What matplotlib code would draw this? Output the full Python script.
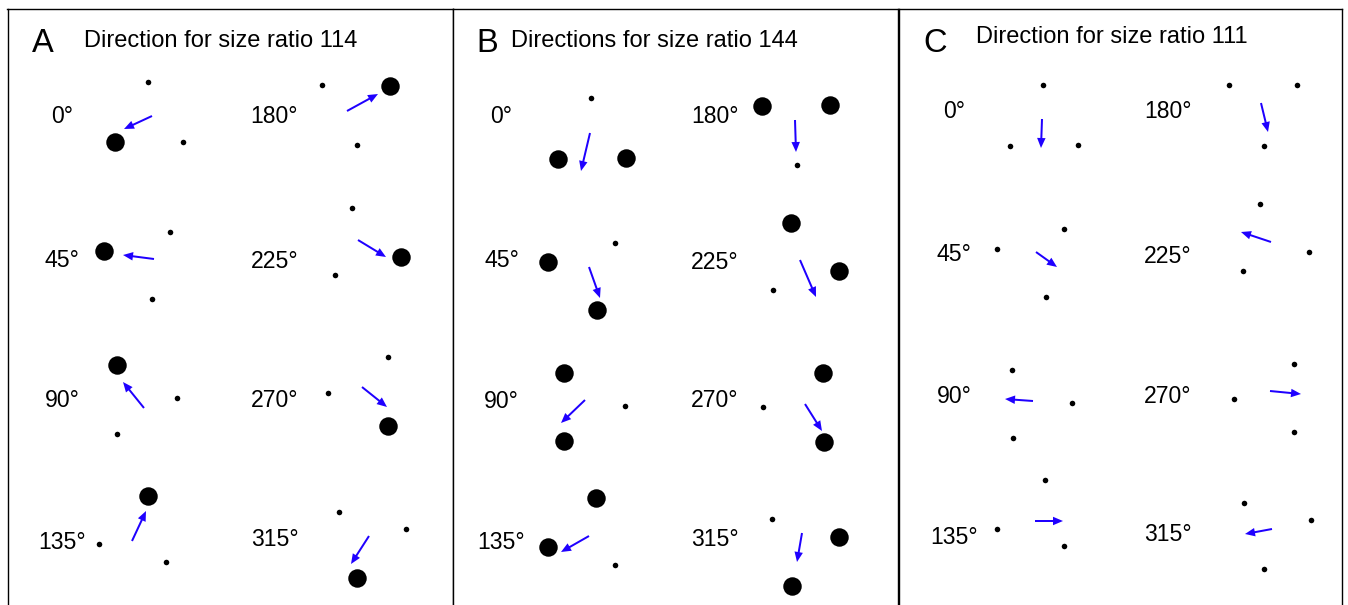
#!/usr/bin/env python
import matplotlib
matplotlib.use("Agg")
import matplotlib.pyplot as plt

plt.rcParams['font.family'] = ['Liberation Sans', 'DejaVu Sans']

W, H = 1348, 605
ARROW_BLUE = '#1f00ff'

# --- data (image pixel coordinates, y grows downward) ---
angle_labels = ["0°", "180°", "45°", "225°", "90°", "270°", "135°", "315°"]

panel_letters = ["A", "B", "C"]
panel_titles = ["Direction for size ratio 114",
                "Directions for size ratio 144",
                "Direction for size ratio 111"]

# panel A
a_small_x = [148, 183, 322, 357, 170, 152, 352, 335, 177, 117, 388, 328, 99, 166, 339, 406]
a_small_y = [82, 142, 85, 145, 232, 299, 208, 275, 398, 434, 357, 393, 544, 562, 512, 529]
a_big_x = [115, 390, 104, 401, 117, 388, 148, 357]
a_big_y = [142, 86, 251, 257, 365, 426, 496, 578]
a_arrows = [(152, 116, 124, 129), (347, 111, 378, 94), (154, 259, 123, 255),
            (358, 240, 386, 257), (144, 408, 123, 382), (362, 387, 387, 407),
            (132, 541, 146, 511), (369, 536, 351, 564)]

# panel B
b_small_x = [591, 797, 615, 773, 625, 763, 615, 772]
b_small_y = [98, 165, 243, 290, 406, 407, 565, 519]
b_big_x = [558, 626, 762, 830, 548, 597, 791, 839, 564, 564, 823, 824, 596, 548, 839, 792]
b_big_y = [159, 158, 106, 105, 262, 310, 223, 271, 373, 441, 373, 442, 498, 547, 537, 586]
b_arrows = [(590, 133, 581, 171), (795, 120, 796, 152), (589, 267, 600, 298),
            (800, 260, 816, 297), (585, 400, 561, 423), (805, 404, 822, 431),
            (589, 536, 561, 552), (802, 533, 797, 562)]

# panel C
c_small_x = [1043, 1010, 1078, 1229, 1297, 1264, 997, 1064, 1046, 1260, 1309, 1243,
             1012, 1072, 1013, 1294, 1234, 1294, 1045, 997, 1064, 1244, 1311, 1264]
c_small_y = [85, 146, 145, 85, 85, 146, 249, 229, 297, 204, 252, 271,
             370, 403, 438, 364, 399, 432, 480, 529, 546, 503, 520, 569]
c_big_x = []
c_big_y = []
c_arrows = [(1042, 119, 1041, 148), (1261, 103, 1268, 132), (1036, 252, 1057, 267),
            (1271, 242, 1241, 232), (1033, 401, 1005, 399), (1270, 391, 1301, 394),
            (1035, 521, 1063, 521), (1272, 529, 1245, 534)]

# --- layout ---
panel_edges = [(7.5, 452.5), (452.5, 897.5), (898.5, 1341.5)]
panel_top = 9
panel_bottom = 640  # frame runs off the bottom of the image
letter_pos = [(32, 52), (476, 52), (923, 52)]
title_pos = [(84, 47), (511, 47), (976, 43)]
label_cols = [(62, 274.5), (501.5, 714.5), (954, 1167.5)]
label_rows = [[123, 123, 267, 268, 407, 407, 549, 546],
              [123, 123, 267, 269, 408, 407, 549, 546],
              [118, 118, 261, 263, 403, 403, 544, 541]]


def draw_panel(i, small_x, small_y, big_x, big_y, arrows):
    x0, x1 = panel_edges[i]
    ax = fig.add_axes([x0 / W, 1 - panel_bottom / H,
                       (x1 - x0) / W, (panel_bottom - panel_top) / H])
    ax.set_xlim(x0, x1)
    ax.set_ylim(panel_bottom, panel_top)
    ax.set_xticks([])
    ax.set_yticks([])
    for s in ax.spines.values():
        s.set_linewidth(1.0)
        s.set_color('black')

    ax.text(*letter_pos[i], panel_letters[i], fontsize=23.5,
            ha='left', va='baseline')
    ax.text(*title_pos[i], panel_titles[i], fontsize=17,
            ha='left', va='baseline')

    for k, lab in enumerate(angle_labels):
        ax.text(label_cols[i][k % 2], label_rows[i][k], lab, fontsize=16.6,
                ha='center', va='baseline')

    ax.plot(small_x, small_y, 'o', color='black', markersize=4.0,
            markeredgewidth=0)
    if big_x:
        ax.plot(big_x, big_y, 'o', color='black', markersize=13.3,
                markeredgewidth=0)

    for xs, ys, xe, ye in arrows:
        ax.arrow(xs, ys, xe - xs, ye - ys, width=2.0, head_width=8.5,
                 head_length=10, length_includes_head=True,
                 color=ARROW_BLUE, linewidth=0)


fig = plt.figure(figsize=(W / 100, H / 100), dpi=100)
fig.patch.set_facecolor('white')

draw_panel(0, a_small_x, a_small_y, a_big_x, a_big_y, a_arrows)
draw_panel(1, b_small_x, b_small_y, b_big_x, b_big_y, b_arrows)
draw_panel(2, c_small_x, c_small_y, c_big_x, c_big_y, c_arrows)

fig.savefig('out.png', dpi=100)
